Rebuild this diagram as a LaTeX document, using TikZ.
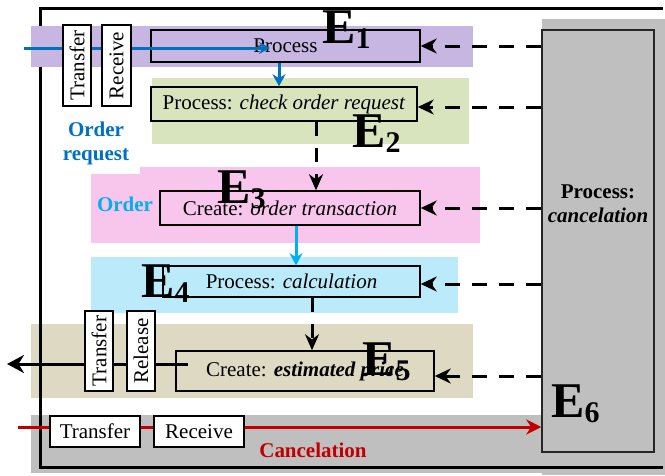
\documentclass[tikz,border=0pt]{standalone}
\usepackage{fontspec}
\setmainfont{Liberation Serif}
\usetikzlibrary{arrows.meta}
\definecolor{bandpurple}{RGB}{200,182,226}
\definecolor{bandgreen}{HTML}{D7E4BD}
\definecolor{bandpink}{RGB}{248,198,236}
\definecolor{bandcyan}{RGB}{187,234,251}
\definecolor{bandtan}{HTML}{DDD9C3}
\definecolor{bandgrey}{HTML}{BFBFBF}
\definecolor{myblue}{HTML}{0070C0}
\definecolor{mycyan}{HTML}{00B0F0}
\definecolor{myred}{HTML}{C00000}
\tikzset{
  txt/.style={font=\fontsize{21}{24}\selectfont},
  procbox/.style={draw, line width=1.5pt, rectangle, inner sep=0pt, txt},
  whitebox/.style={draw, line width=1.5pt, fill=white, rectangle, inner sep=0pt, txt},
  vbox/.style={whitebox, rotate=90},
  elabel/.style={anchor=base west, inner sep=0pt, font=\fontsize{50}{50}\selectfont\bfseries},
  dasharrow/.style={line width=3pt, dash pattern=on 15pt off 12pt, -{Stealth[length=16pt,width=15pt]}},
  dashdown/.style={line width=3pt, dash pattern=on 14pt off 12pt, -{Stealth[length=16pt,width=14pt]}},
  solidarrow/.style={line width=3pt, -{Stealth[length=14pt,width=14pt]}}
}
\newcommand{\Elab}[1]{E\raisebox{-5pt}{\fontsize{30}{30}\selectfont #1}}
\begin{document}
\begin{tikzpicture}[x=1pt,y=-1pt]
\useasboundingbox (0,0) rectangle (665,475);
% background bands
\fill[bandgrey] (31,415) rectangle (542,473);
\fill[bandgrey] (542,19) rectangle (665,475);
\fill[bandtan] (31,324) rectangle (473,398);
\fill[bandpink] (91,174) rectangle (480,243);
\fill[bandpink] (140,167) rectangle (480,243);
\fill[bandcyan] (91,257) rectangle (458,313);
\fill[bandgreen] (152,78) rectangle (469,144);
% outer border
\draw[line width=3pt] (663,8) -- (40,8) -- (40,467) -- (663,467);
\fill[bandpurple] (31,26) rectangle (473,67);
% coordinates for free ends
\coordinate (bin) at (24,48);
\coordinate (bend) at (270,48);
\coordinate (lstart) at (188,364);
\coordinate (lout) at (7,364);
\coordinate (rin) at (18,427);
% main boxes
\node[procbox, minimum width=269pt, minimum height=32pt] (p1) at (285.5,46) {Process};
\node[procbox, minimum width=266pt, minimum height=34pt] (p2) at (284,104) {Process: \textit{check order request}};
\node[procbox, minimum width=260pt, minimum height=34pt] (p3) at (290,208) {Create: \textit{order transaction}};
\node[procbox, minimum width=257pt, minimum height=31pt] (p4) at (291.5,281.5) {Process: \textit{calculation}};
\node[procbox, minimum width=258pt, minimum height=40pt] (p5) at (305,371) {Create: \textbf{\textit{estimated price}}};
\node[draw=black!85, line width=1.5pt, fill=bandgrey, minimum width=112pt, minimum height=422pt, inner sep=0pt] (cancel) at (598,241) {};
\node[txt, align=center, inner sep=0pt] (canceltxt) at (598,204) {\textbf{Process:}\\\textbf{\textit{cancelation}}};
% flow lines under the white boxes
\draw[myblue, solidarrow, -{Stealth[length=11pt,width=12pt]}] (bin) -- (bend);
\draw[solidarrow, -{Stealth[length=17pt,width=18pt]}] (lstart) -- (lout);
\draw[myred, solidarrow, -{Stealth[length=15pt,width=15pt]}] (rin) -- (cancel.west |- rin);
% white boxes
\node[vbox, minimum width=81pt, minimum height=28pt] (t1) at (77,65.5) {Transfer};
\node[vbox, minimum width=81pt, minimum height=29pt] (r1) at (116.5,65.5) {Receive};
\node[vbox, minimum width=80pt, minimum height=28pt] (t2) at (99,351) {Transfer};
\node[vbox, minimum width=80pt, minimum height=28pt] (r2) at (141,351) {Release};
\node[whitebox, minimum width=90pt, minimum height=31pt] (t3) at (95,431.5) {Transfer};
\node[whitebox, minimum width=90pt, minimum height=31pt] (r3) at (199,431.5) {Receive};
% vertical flow
\draw[myblue, solidarrow, -{Stealth[length=12pt,width=13pt]}] ([xshift=-6.5pt]p1.south) -- ([xshift=-5pt]p2.north);
\draw[dashdown] ([xshift=32pt]p2.south) -- ([xshift=26pt]p3.north);
\draw[mycyan, solidarrow, -{Stealth[length=12pt,width=13pt]}] ([xshift=6pt]p3.south) -- ([xshift=4.5pt]p4.north);
\draw[dashdown] ([xshift=20.5pt]p4.south) -- ([xshift=7pt]p5.north);
% cancelation arrows
\draw[dasharrow] (cancel.west |- p1.east) -- (p1.east);
\draw[dasharrow] ([yshift=-3pt]cancel.west |- p2.east) -- ([yshift=-3pt]p2.east);
\draw[dasharrow] (cancel.west |- p3.east) -- (p3.east);
\draw[dasharrow] ([yshift=-2.5pt]cancel.west |- p4.east) -- ([yshift=-2.5pt]p4.east);
\draw[dasharrow] ([yshift=-5pt]cancel.west |- p5.east) -- ([yshift=-5pt]p5.east);
% labels
\node[txt, font=\fontsize{21}{24}\selectfont\bfseries, text=myblue, align=center, inner sep=0pt] (lreq) at (96,143) {Order\\request};
\node[txt, font=\fontsize{21}{24}\selectfont\bfseries, text=mycyan, inner sep=0pt] (lord) at (125,204) {Order};
\node[txt, font=\fontsize{21}{24}\selectfont\bfseries, text=myred, inner sep=0pt] (lcan) at (313,450) {Cancelation};
% E labels
\node[elabel] (e1) at (322,43) {\Elab{1}};
\node[elabel] (e2) at (352,147) {\Elab{2}};
\node[elabel] (e3) at (217,203) {\Elab{3}};
\node[elabel] (e4) at (141,297) {\Elab{4}};
\node[elabel] (e5) at (362,375) {\Elab{5}};
\node[elabel] (e6) at (551,417) {\Elab{6}};
\end{tikzpicture}
\end{document}
